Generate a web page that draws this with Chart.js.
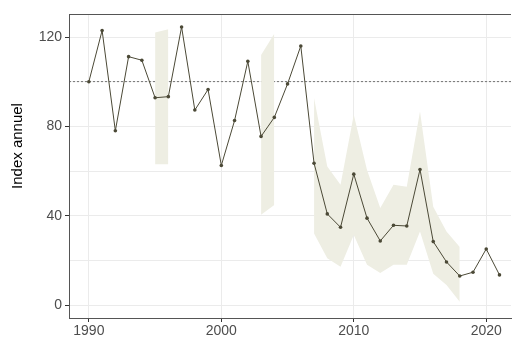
<!DOCTYPE html>
<html>
<head>
<meta charset="utf-8">
<script src="https://cdn.jsdelivr.net/npm/chart.js@4.4.1/dist/chart.umd.min.js"></script>
<style>
  html, body { margin: 0; padding: 0; background: #fff; }
  #wrap { width: 515px; height: 338px; }
</style>
</head>
<body>
<div id="wrap"><canvas id="indexChart"></canvas></div>
<script>
// annual index values
const years = [1990, 1991, 1992, 1993, 1994, 1995, 1996, 1997, 1998, 1999,
               2000, 2001, 2002, 2003, 2004, 2005, 2006, 2007, 2008, 2009,
               2010, 2011, 2012, 2013, 2014, 2015, 2016, 2017, 2018, 2019,
               2020, 2021];
const indexValues = [100, 122.9, 78, 111.2, 109.6, 92.8, 93.3, 124.5, 87.3, 96.5,
                     62.5, 82.6, 109.1, 75.5, 84, 99, 116, 63.5, 40.8, 34.8,
                     58.6, 38.9, 28.7, 35.7, 35.4, 60.7, 28.4, 19.3, 13, 14.7,
                     25.1, 13.5];
// confidence band (null where no band is drawn)
const bandLow = [null, null, null, null, null, 63, 63, null, null, null,
                 null, null, null, 40.4, 44.8, null, null, 32, 21, 17.2,
                 31.4, 18, 14.3, 18, 18, 32.9, 14, 9, 1.5, null,
                 null, null];
const bandHigh = [null, null, null, null, null, 122, 123.5, null, null, null,
                  null, null, null, 112, 121.5, null, null, 92.7, 62, 53.8,
                  85.2, 60.5, 43.5, 53.8, 53, 86.7, 44, 32.9, 26, null,
                  null, null];
const yTicks = [0, 40, 80, 120];
const xTicks = [1990, 2000, 2010, 2020];
const refValue = 100;
const yTitle = 'Index annuel';

const lineColor = '#4b4936';
const bandColor = '#eeeee3';
const gridColor = '#ebebeb';

// split the band into contiguous runs so each run is filled on its own
function bandDatasets() {
    const sets = [];
    let run = null;
    years.forEach((yr, i) => {
        if (bandLow[i] != null && bandHigh[i] != null) {
            if (!run) { run = { hi: [], lo: [] }; sets.push(run); }
            run.hi.push({ x: yr, y: bandHigh[i] });
            run.lo.push({ x: yr, y: bandLow[i] });
        } else {
            run = null;
        }
    });
    const out = [];
    sets.forEach(r => {
        out.push({
            data: r.hi, borderWidth: 0, pointRadius: 0, fill: '+1',
            backgroundColor: bandColor, borderColor: bandColor, order: 5
        });
        out.push({
            data: r.lo, borderWidth: 0, pointRadius: 0, fill: false,
            backgroundColor: bandColor, borderColor: bandColor, order: 5
        });
    });
    return out;
}

const refLine = {
    id: 'refLine',
    beforeDatasetsDraw(chart) {
        const { ctx, chartArea, scales } = chart;
        const y = scales.y.getPixelForValue(refValue);
        ctx.save();
        ctx.strokeStyle = '#555';
        ctx.lineWidth = 0.8;
        ctx.setLineDash([2, 2]);
        ctx.beginPath();
        ctx.moveTo(chartArea.left, y);
        ctx.lineTo(chartArea.right, y);
        ctx.stroke();
        ctx.restore();
    },
    afterDraw(chart) {
        const { ctx, chartArea } = chart;
        ctx.save();
        // panel top border
        ctx.strokeStyle = '#555';
        ctx.lineWidth = 1;
        ctx.beginPath();
        ctx.moveTo(chartArea.left, chartArea.top + 0.5);
        ctx.lineTo(chartArea.right, chartArea.top + 0.5);
        ctx.stroke();
        // y axis title
        ctx.translate(18, (chartArea.top + chartArea.bottom) / 2 - 20);
        ctx.rotate(-Math.PI / 2);
        ctx.fillStyle = '#000';
        ctx.font = '15px "Liberation Sans"';
        ctx.textAlign = 'center';
        ctx.textBaseline = 'middle';
        ctx.fillText(yTitle, 0, 0);
        ctx.restore();
    }
};

function drawIndexChart() {
    const canvas = document.getElementById('indexChart').getContext('2d');
    const series = years.map((yr, i) => ({ x: yr, y: indexValues[i] }));

    new Chart(canvas, {
        type: 'line',
        data: {
            datasets: [{
                data: series,
                borderColor: lineColor,
                borderWidth: 1,
                pointRadius: 1.8,
                pointBackgroundColor: lineColor,
                pointBorderWidth: 0,
                tension: 0,
                fill: false,
                order: 1
            }].concat(bandDatasets())
        },
        options: {
            responsive: true,
            maintainAspectRatio: false,
            animation: false,
            layout: { padding: { top: 14, left: 0, right: 0, bottom: 0 } },
            plugins: { legend: { display: false }, tooltip: { enabled: false } },
            scales: {
                x: {
                    type: 'linear',
                    min: 1988.5,
                    max: 2021.87,
                    afterBuildTicks: s => { s.ticks = xTicks.map(v => ({ value: v })); },
                    afterFit: s => { s.height = 20; },
                    grid: { color: gridColor, lineWidth: 1, tickLength: 4, tickColor: '#333' },
                    border: { color: '#555', width: 1 },
                    ticks: {
                        color: '#4d4d4d', font: { family: 'Liberation Sans', size: 14 },
                        padding: 1, maxRotation: 0, callback: v => String(v)
                    }
                },
                y: {
                    min: -5.8,
                    max: 130.3,
                    afterBuildTicks: s => {
                        const t = [];
                        for (let v = 0; v <= 120; v += 20) t.push({ value: v });
                        s.ticks = t;
                    },
                    afterFit: s => { s.width = 69; },
                    grid: {
                        color: gridColor, lineWidth: 1, tickLength: 4,
                        tickColor: c => yTicks.includes(c.tick.value) ? '#333' : 'rgba(0,0,0,0)'
                    },
                    border: { color: '#555', width: 1 },
                    ticks: {
                        color: '#4d4d4d', font: { family: 'Liberation Sans', size: 14 },
                        padding: 3,
                        callback: v => yTicks.includes(v) ? String(v) : ''
                    }
                }
            }
        },
        plugins: [refLine]
    });
}

drawIndexChart();
</script>
</body>
</html>
